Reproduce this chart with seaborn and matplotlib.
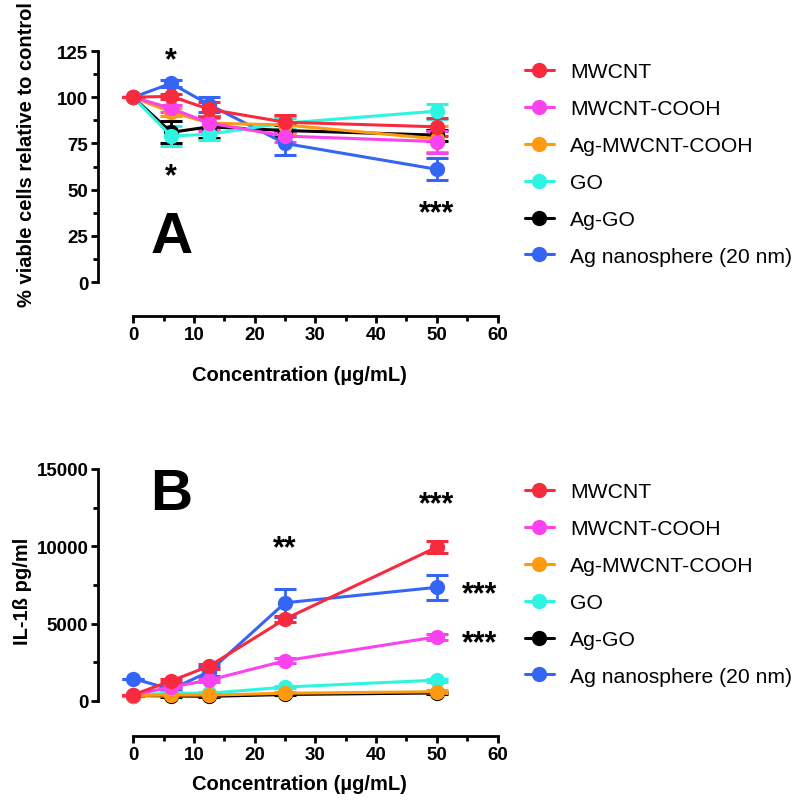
import numpy as np
import pandas as pd
import matplotlib
matplotlib.use('Agg')
import matplotlib.pyplot as plt
import seaborn as sns
from matplotlib.ticker import FixedLocator

# concentrations (ug/mL)
conc = [0, 6.25, 12.5, 25, 50]

names = ['MWCNT', 'MWCNT-COOH', 'Ag-MWCNT-COOH', 'GO', 'Ag-GO', 'Ag nanosphere (20 nm)']
colors = ['#F82A3E', '#FA43EE', '#FF9A10', '#2EF5E2', '#000000', '#3465F5']

# panel A: % viable cells
via_mean = {
    'MWCNT':                 [100, 100.5, 93.5, 86.5, 84],
    'MWCNT-COOH':            [100, 94, 86, 79, 76],
    'Ag-MWCNT-COOH':         [100, 92, 86, 85, 77.5],
    'GO':                    [100, 79, 80, 86, 92.5],
    'Ag-GO':                 [100, 81, 84, 82, 79.5],
    'Ag nanosphere (20 nm)': [100, 107.5, 96, 75, 61],
}
via_err = {
    'MWCNT':                 [0, 1.5, 4, 4, 5],
    'MWCNT-COOH':            [0, 2, 4, 3, 6],
    'Ag-MWCNT-COOH':         [0, 2, 3, 5, 7],
    'GO':                    [0, 5.5, 3, 3, 4],
    'Ag-GO':                 [0, 6, 6, 3, 3],
    'Ag nanosphere (20 nm)': [0, 2, 4, 6, 6],
}

# panel B: IL-1b pg/ml
il_mean = {
    'MWCNT':                 [400, 1300, 2250, 5300, 9950],
    'MWCNT-COOH':            [400, 900, 1350, 2600, 4150],
    'Ag-MWCNT-COOH':         [350, 380, 380, 500, 600],
    'GO':                    [400, 500, 500, 900, 1350],
    'Ag-GO':                 [350, 330, 300, 420, 520],
    'Ag nanosphere (20 nm)': [1450, 750, 1900, 6350, 7350],
}
il_err = {
    'MWCNT':                 [0, 100, 150, 200, 400],
    'MWCNT-COOH':            [0, 80, 100, 150, 200],
    'Ag-MWCNT-COOH':         [0, 50, 50, 60, 80],
    'GO':                    [0, 60, 60, 80, 100],
    'Ag-GO':                 [0, 40, 40, 60, 60],
    'Ag nanosphere (20 nm)': [0, 100, 300, 900, 800],
}

sns.set_style('ticks')
plt.rcParams['font.family'] = ['Liberation Sans', 'DejaVu Sans']
plt.rcParams['text.color'] = 'black'
plt.rcParams['xtick.color'] = 'black'
plt.rcParams['ytick.color'] = 'black'
plt.rcParams['axes.labelcolor'] = 'black'
plt.rcParams['axes.edgecolor'] = 'black'

fig = plt.figure(figsize=(8, 8.03), dpi=100)
axA = fig.add_axes([0.1225, 0.6052, 0.5025, 0.3325])
axB = fig.add_axes([0.1225, 0.0822, 0.5025, 0.335])


def draw(ax, means, errs, xpad):
    # reverse order so MWCNT ends up on top
    for name, col in reversed(list(zip(names, colors))):
        df = pd.DataFrame({'conc': conc, 'val': means[name], 'err': errs[name]})
        ax.errorbar(df['conc'], df['val'], yerr=df['err'], fmt='none', ecolor=col,
                    elinewidth=2, capsize=8, capthick=2.2, zorder=2)
        sns.lineplot(data=df, x='conc', y='val', ax=ax, color=col, marker='o',
                     markersize=11, markeredgewidth=0, linewidth=2.2, label=name, zorder=3)
    for side in ['top', 'right']:
        ax.spines[side].set_visible(False)
    for side in ['left', 'bottom']:
        ax.spines[side].set_linewidth(2)
    ax.set_xlim(-5.8, 60.4)
    ax.spines['bottom'].set_bounds(0, 60)
    ax.set_xticks(range(0, 61, 10))
    ax.xaxis.set_minor_locator(FixedLocator(range(5, 60, 10)))
    ax.tick_params(which='major', length=5, width=2, labelsize=13.5, pad=2)
    ax.tick_params(which='minor', length=3.5, width=2)
    ax.set_xlabel('Concentration (µg/mL)', fontsize=14.5, fontweight='bold', labelpad=xpad)
    ax.get_legend().remove()


def finish_y(ax, top, step):
    ax.spines['left'].set_bounds(0, top)
    ax.set_yticks(np.arange(0, top + 1, step))
    ax.yaxis.set_minor_locator(FixedLocator(np.arange(step / 2, top, step)))
    for lab in ax.get_xticklabels() + ax.get_yticklabels():
        lab.set_fontweight('bold')


draw(axA, via_mean, via_err, 16)
axA.set_ylim(-18.4, 126.1)
finish_y(axA, 125, 25)
axA.set_ylabel('% viable cells relative to control', fontsize=14.5, fontweight='bold')
axA.yaxis.set_label_coords(-0.155, 0.61)
axA.text(6.3, 39, 'A', fontsize=42, fontweight='bold', ha='center', va='top')
axA.text(6.25, 120, '*', fontsize=22, fontweight='bold', ha='center', va='center')
axA.text(6.25, 57, '*', fontsize=22, fontweight='bold', ha='center', va='center')
axA.text(50, 37, '***', fontsize=22, fontweight='bold', ha='center', va='center')

draw(axB, il_mean, il_err, 8)
axB.set_ylim(-2263, 15130)
finish_y(axB, 15000, 5000)
axB.set_ylabel('IL-1ß pg/ml', fontsize=14.5, fontweight='bold')
axB.yaxis.set_label_coords(-0.165, 0.54)
axB.text(6.3, 15150, 'B', fontsize=42, fontweight='bold', ha='center', va='top')
axB.text(50, 12750, '***', fontsize=22, fontweight='bold', ha='center', va='center')
axB.text(25, 9850, '**', fontsize=22, fontweight='bold', ha='center', va='center')
axB.text(57, 6900, '***', fontsize=22, fontweight='bold', ha='center', va='center')
axB.text(57, 3750, '***', fontsize=22, fontweight='bold', ha='center', va='center')

# legends in order of names
for ax, top in [(axA, 0.945), (axB, 0.422)]:
    h, l = ax.get_legend_handles_labels()
    order = [l.index(n) for n in names]
    fig.legend([h[i] for i in order], [l[i] for i in order], loc='upper left',
               bbox_to_anchor=(0.632, top), frameon=False, fontsize=15.2,
               handlelength=1.4, handletextpad=0.75, labelspacing=0.85)

plt.savefig('out.png', dpi=100)
